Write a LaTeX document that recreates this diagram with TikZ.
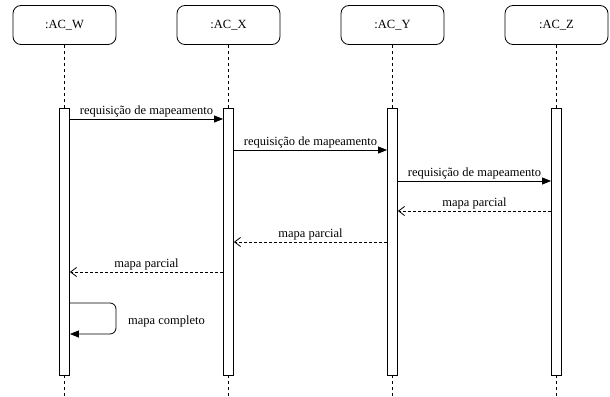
\documentclass[tikz,border=0pt]{standalone}
\usepackage{fontspec}
\setmainfont{Liberation Serif}
\usetikzlibrary{arrows.meta}

\begin{document}
\begin{tikzpicture}[x=1pt,y=-1pt]
\tikzstyle{every node}+=[inner sep=0pt, font=\fontsize{12.5}{14}\selectfont]
\tikzstyle{actor}=[draw, line width=0.8pt, rounded corners=8pt, minimum width=103pt, minimum height=39pt]
\tikzstyle{bar}=[draw, line width=0.8pt, fill=white, minimum width=10pt, minimum height=267pt]
\tikzstyle{life}=[dash pattern=on 3pt off 3pt, line width=0.8pt]
\tikzstyle{call}=[-{Triangle[length=9pt,width=7pt]}, line width=0.8pt]
\tikzstyle{reply}=[-{Straight Barb[length=6pt,width=9pt]}, dash pattern=on 3pt off 2pt, line width=0.8pt]
\useasboundingbox (0,0) rectangle (610,396);
% actors
\node [actor] (w) at (64.5,25) {:AC\_W};
\node [actor] (x) at (228.5,25) {:AC\_X};
\node [actor] (y) at (392.5,25) {:AC\_Y};
\node [actor] (z) at (556.5,25) {:AC\_Z};
% lifelines
\coordinate (wend) at (64.5,396);
\coordinate (xend) at (228.5,396);
\coordinate (yend) at (392.5,396);
\coordinate (zend) at (556.5,396);
\draw [life] (w.south) -- (wend);
\draw [life] (x.south) -- (xend);
\draw [life] (y.south) -- (yend);
\draw [life] (z.south) -- (zend);
% activations
\node [bar] (wb) at (64.5,241.5) {};
\node [bar] (xb) at (228.5,241.5) {};
\node [bar] (yb) at (392.5,241.5) {};
\node [bar] (zb) at (556.5,241.5) {};
% messages
\draw [call] (wb.east |- 0,119) -- node [above=1pt] {requisição de mapeamento} (xb.west |- 0,119);
\draw [call] (xb.east |- 0,150) -- node [above=1pt] {requisição de mapeamento} (yb.west |- 0,150);
\draw [call] (yb.east |- 0,181) -- node [above=1pt] {requisição de mapeamento} (zb.west |- 0,181);
\draw [reply] (zb.west |- 0,211) -- node [above=1pt] {mapa parcial} (yb.east |- 0,211);
\draw [reply] (yb.west |- 0,242) -- node [above=1pt] {mapa parcial} (xb.east |- 0,242);
\draw [reply] (xb.west |- 0,272) -- node [above=1pt] {mapa parcial} (wb.east |- 0,272);
% self call
\coordinate (loop) at (116,318.5);
\draw [call, rounded corners=6pt] (wb.east |- 0,303) -| (loop) |- (wb.east |- 0,334);
\node [anchor=west] (done) at (128,321) {mapa completo};
\end{tikzpicture}
\end{document}
